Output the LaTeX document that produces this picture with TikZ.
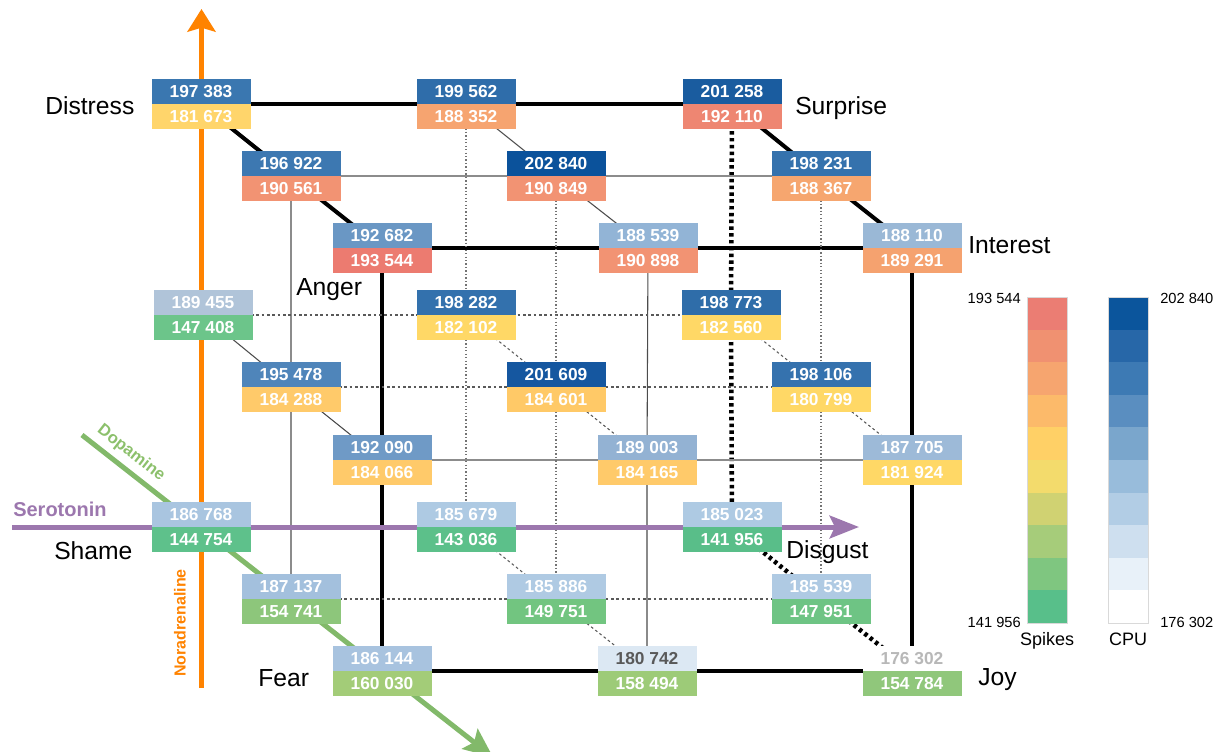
\documentclass[tikz,border=0pt]{standalone}
\usepackage{fontspec}
\setmainfont{Liberation Sans}
\usetikzlibrary{arrows.meta}
\pgfdeclarelayer{background}
\pgfsetlayers{background,main}

\definecolor{noraOrange}{HTML}{FF8300}
\definecolor{seroPurple}{HTML}{9C77AE}
\definecolor{dopaGreen}{HTML}{82B96A}
\definecolor{dopaText}{HTML}{8CC06C}

% one measurement: CPU value on top, spike count below, split at (x,y)
\newcommand\cellbox[8]{%
  \definecolor{col#1cpu}{HTML}{#4}\definecolor{col#1spk}{HTML}{#6}%
  \coordinate (#1) at (#2,#3);
  \node[half,fill=col#1cpu,text=#8,anchor=south] (#1t) at (#1) {#5};
  \node[half,fill=col#1spk,anchor=north] (#1b) at (#1) {#7};
}

\begin{document}
\begin{tikzpicture}[x=0.75pt,y=-0.75pt,
  half/.style={minimum width=74.25pt,minimum height=18.4pt,inner sep=0pt,
    text=white,font=\bfseries\fontsize{13}{13}\selectfont},
  emo/.style={font=\fontsize{18.5}{18.5}\selectfont,anchor=base west,inner sep=0pt},
  legnum/.style={font=\fontsize{11}{11}\selectfont,inner sep=0pt},
  legname/.style={font=\fontsize{13.5}{13.5}\selectfont,inner sep=0pt,anchor=base},
  thickedge/.style={line width=3pt,black},
  thickdots/.style={line width=3.4pt,black,dash pattern=on 2.6pt off 2.5pt},
  thingray/.style={line width=1.1pt,black!45},
  thindark/.style={line width=0.8pt,black!70},
  dashedge/.style={line width=0.8pt,black!65,dash pattern=on 2pt off 2pt},
  dotedge/.style={line width=1pt,black!55,dash pattern=on 1pt off 1.6pt},
  axis/.style={line width=#1,line cap=butt},
]
\useasboundingbox (0,0) rectangle (1223,751);

% ---- measurement cells ----
\cellbox{a1}{201}{104}{3A77B0}{197 383}{FFD56B}{181 673}{white}
\cellbox{a2}{466}{104}{2F6DAA}{199 562}{F6A470}{188 352}{white}
\cellbox{a3}{732}{104}{1A5C9F}{201 258}{EE8672}{192 110}{white}
\cellbox{b1}{291}{176}{3D78B1}{196 922}{F29373}{190 561}{white}
\cellbox{b2}{556}{176}{0B529B}{202 840}{F29373}{190 849}{white}
\cellbox{b3}{821}{176}{3572AD}{198 231}{F6A66F}{188 367}{white}
\cellbox{c1}{382}{248}{6A97C4}{192 682}{EC7B70}{193 544}{white}
\cellbox{c2}{648}{248}{92B4D6}{188 539}{F29373}{190 898}{white}
\cellbox{c3}{912}{248}{9AB8D6}{188 110}{F5A26F}{189 291}{white}
\cellbox{d1}{203}{315}{B0C4D9}{189 455}{6CC58A}{147 408}{white}
\cellbox{d2}{466}{315}{3371AD}{198 282}{FFD866}{182 102}{white}
\cellbox{d3}{731}{315}{2F6DA9}{198 773}{FFD866}{182 560}{white}
\cellbox{e1}{291}{387}{4F85BA}{195 478}{FFCA6A}{184 288}{white}
\cellbox{e2}{556}{387}{1557A0}{201 609}{FFC967}{184 601}{white}
\cellbox{e3}{821}{387}{3572AE}{198 106}{FFD866}{180 799}{white}
\cellbox{f1}{382}{460}{6F9AC6}{192 090}{FFCA6A}{184 066}{white}
\cellbox{f2}{647}{460}{93B2D3}{189 003}{FFCA6A}{184 165}{white}
\cellbox{f3}{912}{460}{9DBAD8}{187 705}{FFD866}{181 924}{white}
\cellbox{g1}{201}{527}{A9C5E0}{186 768}{5EC18B}{144 754}{white}
\cellbox{g2}{466}{527}{AECAE3}{185 679}{5CC08A}{143 036}{white}
\cellbox{g3}{732}{527}{AECAE3}{185 023}{59BE89}{141 956}{white}
\cellbox{h1}{291}{599}{A3C0DD}{187 137}{8DC67B}{154 741}{white}
\cellbox{h2}{556}{599}{AFCAE3}{185 886}{72C580}{149 751}{white}
\cellbox{h3}{821}{599}{AFCAE3}{185 539}{6EC484}{147 951}{white}
\cellbox{i1}{382}{671}{A8C3DF}{186 144}{A3CC78}{160 030}{white}
\cellbox{i2}{647}{671}{DCE8F3}{180 742}{9DCB78}{158 494}{black!65}
\cellbox{i3}{912}{671}{FFFFFF}{176 302}{90C77B}{154 784}{black!28}

% ---- free ends of the three transmitter axes ----
\coordinate (noraStart) at (201.5,688);
\coordinate (noraEnd) at (201.5,9);
\coordinate (seroStart) at (12,527);
\coordinate (seroEnd) at (859,527);
\coordinate (dopaStart) at (82,435);
\coordinate (dopaEnd) at (493,757);

\begin{pgfonlayer}{background}
  % cube edges
  \draw[thickedge] (a1) -- (a2) -- (a3);
  \draw[thickedge] (a1) -- (b1) -- (c1);
  \draw[thickedge] (a3) -- (b3) -- (c3);
  \draw[thickedge] (c1) -- (c2) -- (c3);
  \draw[thickedge] (c1) -- (f1) -- (i1);
  \draw[thickedge] (c3) -- (f3) -- (i3);
  \draw[thickedge] (i1) -- (i2) -- (i3);
  \draw[thickdots] (a3) -- (d3) -- (g3);
  \draw[thickdots] (g3) -- (h3) -- (i3);
  % inner grid lines
  \draw[thingray] (b1) -- (b2) -- (b3);
  \draw[thingray] (f1) -- (f2) -- (f3);
  \draw[thingray] (b1) -- (e1) -- (h1);
  \draw[thindark] (c2) -- (f2) -- (i2);
  \draw[thindark] (a2) -- (b2) -- (c2);
  \draw[thindark] (d1) -- (e1) -- (f1);
  \draw[dashedge] (d1) -- (d2) -- (d3);
  \draw[dashedge] (e1) -- (e2) -- (e3);
  \draw[dashedge] (h1) -- (h2) -- (h3);
  \draw[dashedge] (d2) -- (e2) -- (f2);
  \draw[dashedge] (d3) -- (e3) -- (f3);
  \draw[dashedge] (g2) -- (h2) -- (i2);
  \draw[dotedge] (a2) -- (d2) -- (g2);
  \draw[dotedge] (b2) -- (e2) -- (h2);
  \draw[dotedge] (b3) -- (e3) -- (h3);
  % transmitter axes
  \draw[axis=4pt,noraOrange,-{Stealth[length=17pt,width=21pt,inset=3pt]}] (noraStart) -- (noraEnd);
  \draw[axis=3.75pt,seroPurple,-{Stealth[length=22pt,width=17pt,inset=4pt]}] (seroStart) -- (seroEnd);
  \draw[axis=3.75pt,dopaGreen,-{Stealth[length=22pt,width=19pt,inset=4pt]}] (dopaStart) -- (dopaEnd);
\end{pgfonlayer}

% ---- axis names ----
\node[font=\bfseries\fontsize{15}{15}\selectfont,text=seroPurple,anchor=base west,inner sep=0pt] (seroName) at (13,516) {Serotonin};
\node[font=\bfseries\fontsize{12}{12}\selectfont,text=noraOrange,rotate=90,inner sep=0pt] (noraName) at (180,623) {Noradrenaline};
\node[font=\bfseries\fontsize{12.5}{12.5}\selectfont,text=dopaText,rotate=-38,inner sep=0pt] (dopaName) at (131,453) {Dopamine};

% ---- emotion names ----
\node[emo] (distress) at (45,114) {Distress};
\node[emo] (surprise) at (795,114) {Surprise};
\node[emo] (interest) at (968,253) {Interest};
\node[emo] (anger) at (296,295) {Anger};
\node[emo] (shame) at (54,559) {Shame};
\node[emo] (fear) at (258,686) {Fear};
\node[emo] (disgust) at (786,558) {Disgust};
\node[emo] (joy) at (978,685) {Joy};

% ---- colour scales ----
\foreach \c [count=\i from 0] in {EB7D73,F09171,F6A56F,FCBA6A,FFD066,F3DB6C,D0D272,A6CC7A,7FC680,58BF8A}{
  \definecolor{segcol}{HTML}{\c}
  \fill[segcol] (1027,297+32.6*\i) rectangle ++(40,32.6);
}
\foreach \c [count=\i from 0] in {0B559C,2767A8,3D7AB4,5A8EC0,7AA6CC,98BCDB,B2CDE5,CEDFEF,E8F1F9,FFFFFF}{
  \definecolor{segcol}{HTML}{\c}
  \fill[segcol] (1108,297+32.6*\i) rectangle ++(40,32.6);
}
\draw[black!15,line width=0.6pt] (1027,297) rectangle (1067,623);
\draw[black!15,line width=0.6pt] (1108,297) rectangle (1148,623);
\node[legnum,anchor=base east] (spkMax) at (1021,303) {193 544};
\node[legnum,anchor=base east] (spkMin) at (1021,627) {141 956};
\node[legnum,anchor=base west] (cpuMax) at (1160,303) {202 840};
\node[legnum,anchor=base west] (cpuMin) at (1160,627) {176 302};
\node[legname] (spkName) at (1047,645) {Spikes};
\node[legname] (cpuName) at (1128,645) {CPU};
\end{tikzpicture}
\end{document}
